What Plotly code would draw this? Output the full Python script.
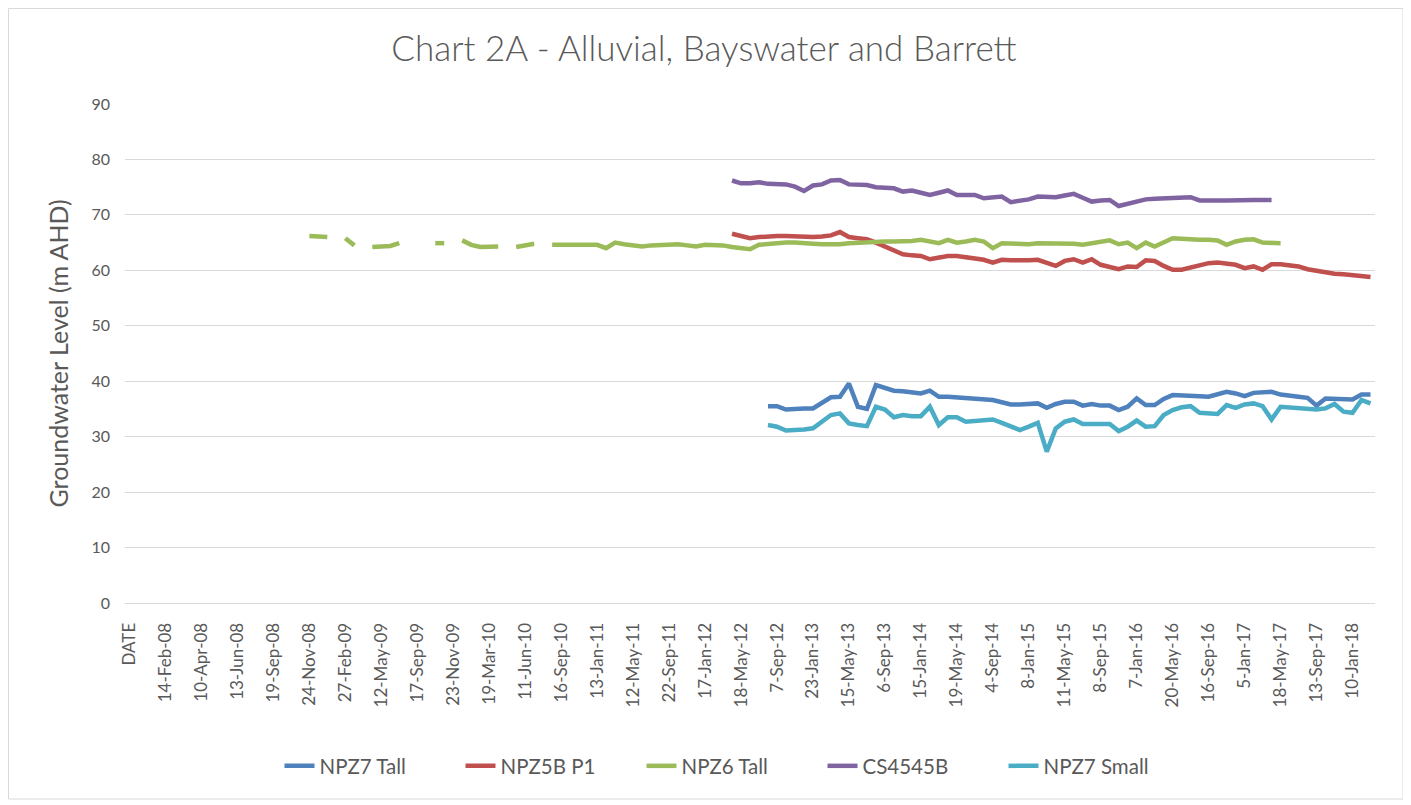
import plotly.graph_objects as go
import pandas as pd

# ---------------- data ----------------
tick_labels = ["14-Feb-08", "10-Apr-08", "13-Jun-08", "19-Sep-08", "24-Nov-08", "27-Feb-09",
               "12-May-09", "17-Sep-09", "23-Nov-09", "19-Mar-10", "11-Jun-10", "16-Sep-10",
               "13-Jan-11", "12-May-11", "22-Sep-11", "17-Jan-12", "18-May-12", "7-Sep-12",
               "23-Jan-13", "15-May-13", "6-Sep-13", "15-Jan-14", "19-May-14", "4-Sep-14",
               "8-Jan-15", "11-May-15", "8-Sep-15", "7-Jan-16", "20-May-16", "16-Sep-16",
               "5-Jan-17", "18-May-17", "13-Sep-17", "10-Jan-18"]

# series: first category index + values (None = no reading)
npz7_tall_start = 71
npz7_tall = [35.5, 35.5, 34.9, 35.1, 35.1, 35.1, 36.2, 37.1, 37.2, 39.6,
             35.4, 35.0, 39.3, 38.9, 38.3, 38.2, 38.1, 37.8, 38.3, 37.2,
             37.2, 37.1, 36.9, 36.7, 36.7, 36.6, 36.2, 35.8, 35.8, 35.9,
             36.0, 35.2, 35.9, 36.3, 36.3, 35.6, 35.9, 35.6, 35.6, 34.8,
             35.4, 36.9, 35.7, 35.7, 36.8, 37.5, 37.5, 37.5, 37.3, 37.2,
             37.6, 38.1, 37.8, 37.3, 37.9, 38.0, 38.1, 37.6, 37.5, 37.2,
             37.0, 35.6, 36.9, 36.9, 36.8, 36.7, 37.6, 37.6]

npz5b_p1_start = 67
npz5b_p1 = [66.6, 66.2, 65.8, 66.0, 66.2, 66.2, 66.2, 66.1, 66.0, 66.0,
            66.1, 66.3, 66.9, 66.0, 65.8, 65.6, 65.0, 64.3, 63.8, 62.9,
            62.7, 62.6, 62.0, 62.3, 62.6, 62.6, 62.4, 62.2, 61.9, 61.4,
            61.9, 61.8, 61.7, 61.8, 61.9, 61.3, 60.8, 61.7, 62.0, 61.4,
            62.0, 61.0, 60.5, 60.2, 60.7, 60.6, 61.8, 61.7, 60.8, 60.1,
            60.1, 60.5, 61.0, 61.3, 61.4, 61.2, 61.0, 60.4, 60.7, 60.1,
            61.1, 61.1, 61.0, 60.7, 60.2, 59.9, 59.6, 59.4, 59.3, 59.1,
            59.0, 58.8]

npz6_tall_start = 20
npz6_tall = [66.2, 66.1, 66.0, None, 65.8, 64.5, None, 64.2, 64.2, 64.4,
             64.9, None, None, None, 64.9, 64.9, None, 65.4, 64.6, 64.2,
             64.2, 64.3, None, 64.2, 64.4, 64.8, None, 64.6, 64.6, 64.6,
             64.6, 64.6, 64.6, 64.0, 65.0, 64.7, 64.5, 64.3, 64.5, 64.6,
             64.7, 64.7, 64.5, 64.3, 64.6, 64.6, 64.5, 64.2, 64.0, 63.8,
             64.6, 64.8, 64.9, 65.0, 65.0, 65.0, 64.8, 64.7, 64.6, 64.7,
             64.9, 65.0, 65.2, 65.2, 65.2, 65.2, 65.2, 65.3, 65.5, 65.1,
             64.9, 65.5, 65.0, 65.2, 65.5, 65.2, 64.0, 64.9, 64.8, 64.6,
             64.7, 64.9, 64.9, 64.9, 64.9, 64.8, 64.6, 64.9, 65.1, 65.4,
             64.7, 65.0, 64.0, 65.0, 64.3, 65.1, 65.8, 65.7, 65.5, 65.5,
             65.5, 65.4, 64.6, 65.2, 65.5, 65.6, 65.0, 64.9, 64.9]

cs4545b_start = 67
cs4545b = [76.2, 75.7, 75.7, 75.9, 75.6, 75.6, 75.5, 75.1, 74.3, 75.3,
           75.5, 76.2, 76.3, 75.5, 75.4, 75.4, 75.0, 75.0, 74.8, 74.2,
           74.4, 74.0, 73.6, 74.0, 74.4, 73.6, 73.6, 73.6, 73.0, 73.1,
           73.3, 72.3, 72.5, 72.8, 73.3, 73.3, 73.2, 73.5, 73.8, 73.1,
           72.4, 72.6, 72.7, 71.6, 72.0, 72.5, 72.8, 72.9, 73.0, 73.0,
           73.1, 73.2, 72.6, 72.5, 72.6, 72.6, 72.7, 72.7, 72.7, 72.7,
           72.7]

npz7_small_start = 71
npz7_small = [32.1, 31.8, 31.1, 31.1, 31.3, 31.5, 32.7, 33.9, 34.2, 32.4,
              32.1, 31.9, 35.4, 34.9, 33.5, 33.9, 33.7, 33.7, 35.4, 32.1,
              33.5, 33.5, 32.7, 32.9, 33.0, 33.1, 32.5, 31.8, 31.2, 31.8,
              32.5, 27.3, 31.5, 32.7, 33.1, 32.3, 32.2, 32.3, 32.3, 31.0,
              31.8, 32.9, 31.8, 31.9, 33.9, 34.8, 35.3, 35.5, 34.3, 34.2,
              34.1, 35.7, 35.2, 35.8, 36.0, 35.5, 33.1, 35.4, 35.3, 35.1,
              34.9, 34.9, 35.1, 35.9, 34.5, 34.3, 36.6, 36.0]

series_names = ["NPZ7 Tall", "NPZ5B P1", "NPZ6 Tall", "CS4545B", "NPZ7 Small"]
series_colors = ["#4F81BD", "#C0504D", "#9BBB59", "#8064A2", "#4BACC6"]

# ---------------- categories (label shown every 4th category) ----------------
N_CATS = 139
anchors = [pd.to_datetime(s, format="%d-%b-%y") for s in tick_labels]


def fmt(d):
    return f"{d.day}-{d.strftime('%b-%y')}"


cat_dates = {}
for k, a in enumerate(anchors):
    cat_dates[4 * (k + 1)] = a
    if k + 1 < len(anchors):
        b = anchors[k + 1]
        for j in range(1, 4):
            cat_dates[4 * (k + 1) + j] = a + (b - a) * j / 4
first_step = (anchors[1] - anchors[0]) / 4
for j in range(1, 4):
    cat_dates[j] = anchors[0] - first_step * (4 - j)
for idx in range(4 * len(anchors) + 1, N_CATS):
    cat_dates[idx] = anchors[-1] + pd.Timedelta(days=30 * (idx - 4 * len(anchors)))

categories = ["DATE"] + [fmt(cat_dates[i].normalize()) for i in range(1, N_CATS)]


def full(start, vals):
    y = [None] * N_CATS
    for i, v in enumerate(vals):
        y[start + i] = v
    return y


all_series = [
    full(npz7_tall_start, npz7_tall),
    full(npz5b_p1_start, npz5b_p1),
    full(npz6_tall_start, npz6_tall),
    full(cs4545b_start, cs4545b),
    full(npz7_small_start, npz7_small),
]

# ---------------- figure ----------------
FONT = "Lato, 'Open Sans', sans-serif"
GREY = "#595959"

fig = go.Figure()
for name, color, ys in zip(series_names, series_colors, all_series):
    fig.add_trace(go.Scatter(
        x=categories, y=ys, name=name, mode="lines",
        line=dict(color=color, width=4.5),
        connectgaps=False,
    ))

# the page adds an 8px body margin, so everything is laid out 8px up/left
L, T = 117, 96
W, H = 1411, 805
PR, PB = 1367, 595          # plot right / bottom in figure px
R, B = W - PR, H - PB
pw, ph = PR - L, PB - T

fig.update_layout(
    width=W, height=H,
    margin=dict(l=L, r=R, t=T, b=B),
    paper_bgcolor="white", plot_bgcolor="white",
    font=dict(family=FONT, color=GREY, size=15),
    title=dict(text="Chart 2A - Alluvial, Bayswater and Barrett",
               x=(704 - 8) / W, xanchor="center", xref="container",
               y=1 - 41 / H, yanchor="middle", yref="container",
               font=dict(family=FONT, size=35, color=GREY, weight=300)),
    showlegend=True,
    legend=dict(orientation="h", x=(724 - L) / pw, xanchor="center",
                y=(PB - 758) / ph, yanchor="middle",
                font=dict(family=FONT, size=20.5, color=GREY),
                entrywidth=136, entrywidthmode="pixels",
                traceorder="normal", bgcolor="rgba(0,0,0,0)"),
    xaxis=dict(type="category", categoryorder="array", categoryarray=categories,
               range=[-0.5, N_CATS - 0.5],
               tickmode="array", tickvals=categories[::4], ticktext=categories[::4],
               tickangle=-90, tickfont=dict(family=FONT, size=17, color=GREY),
               showgrid=False, showline=True, linecolor="#D9D9D9", linewidth=1,
               ticks="", ticklabelstandoff=12, automargin=False, zeroline=False),
    yaxis=dict(range=[0, 90], dtick=10, tick0=0,
               tickfont=dict(family=FONT, size=16, color=GREY),
               showgrid=True, gridcolor="#D9D9D9", gridwidth=1,
               showline=False, zeroline=False, ticks="", ticklabelstandoff=14,
               automargin=False),
)

fig.add_annotation(text="Groundwater Level (m AHD)", xref="paper", yref="paper",
                   x=(49 - L) / pw, y=0.5, xanchor="center", yanchor="middle",
                   textangle=-90, showarrow=False,
                   font=dict(family=FONT, size=25, color=GREY))

# chart-area border
fig.add_shape(type="rect", xref="paper", yref="paper",
              x0=(0.5 - L) / pw, x1=(1395 - L) / pw,
              y0=(PB - 791) / ph, y1=(PB - 0.5) / ph,
              line=dict(color="#D9D9D9", width=1), fillcolor="rgba(0,0,0,0)", layer="below")

fig.write_html("out.html")
